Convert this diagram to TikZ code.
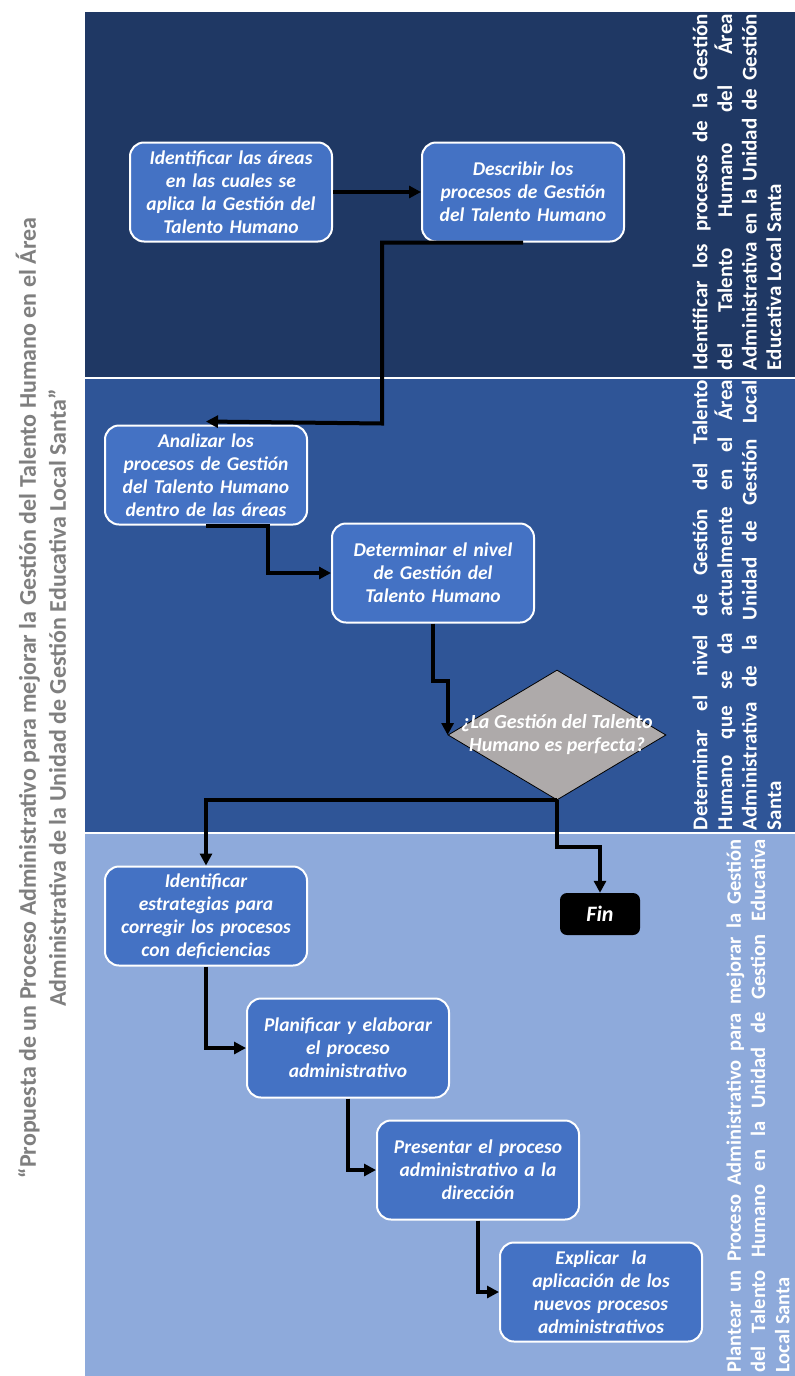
\documentclass[tikz,border=0pt]{standalone}
\usepackage{fontspec}
\setmainfont{Carlito}
\usetikzlibrary{arrows.meta,shapes.geometric,positioning}
\definecolor{laneA}{HTML}{1F3864}
\definecolor{laneB}{HTML}{2F5597}
\definecolor{laneC}{HTML}{8EAADB}
\definecolor{actblue}{HTML}{4472C4}
\definecolor{askgray}{HTML}{AEAAAA}
\definecolor{titlegray}{HTML}{7F7F7F}
\hyphenpenalty=10000
\tikzset{x=1pt, y=-1pt, % one unit is one pixel, y runs downwards
>={Triangle[length=12pt,width=12pt]}, % solid arrow heads
flow/.style={->, line width=4pt}, % the black connectors
act/.style={rectangle, rounded corners=14pt, draw=white, line width=2pt, fill=actblue, inner sep=3pt, minimum width=202pt, minimum height=99pt, text width=196pt, align=center, text=white, font=\fontsize{19.5}{23}\selectfont\bfseries\itshape}, % activity boxes
ask/.style={diamond, draw=black, line width=0.8pt, fill=askgray, minimum width=218pt, minimum height=130pt, inner sep=0pt}, % the question
asktext/.style={text=white, align=center, inner sep=0pt, font=\fontsize{20}{23}\selectfont\bfseries\itshape},
stop/.style={rectangle, rounded corners=7pt, fill=black, minimum width=80pt, minimum height=42pt, text=white, font=\fontsize{22}{24}\selectfont\bfseries\itshape},
lanetext/.style={rotate=90, text=white, align=justify, inner sep=0pt, font=\fontsize{21}{24.6}\selectfont\bfseries}, % lane captions
heading/.style={rotate=90, text=titlegray, align=center, inner sep=0pt, font=\fontsize{24}{30}\selectfont\bfseries}, % title
}

\begin{document}
\begin{tikzpicture}
\useasboundingbox (0,0) rectangle (795,1376);
% lanes
\fill[laneA] (85,12) rectangle (795,378);
\fill[laneB] (85,378) rectangle (795,833);
\fill[laneC] (85,833) rectangle (795,1376);
\draw[white, line width=2pt] (85,378) -- (795,378) (85,833) -- (795,833);

\node[heading] (title) at (41,698) {“Propuesta de un Proceso Administrativo para mejorar la Gestión del Talento Humano en el Área\\Administrativa de la Unidad de Gestión Educativa Local Santa”};

\node[lanetext, text width=356pt] (capA) at (737,192) {Identificar los procesos de la Gestión\linebreak del Talento Humano del Área\linebreak Administrativa en la Unidad de Gestión\linebreak Educativa Local Santa};
\node[lanetext, text width=450pt] (capB) at (737,605) {Determinar el nivel de Gestión del Talento\linebreak Humano que se da actualmente en el Área\linebreak Administrativa de la Unidad de Gestión Local\linebreak Santa};
\node[lanetext, text width=533pt, font=\fontsize{20.5}{24.2}\selectfont\bfseries] (capC) at (758,1106) {Plantear un Proceso Administrativo para mejorar la Gestión\linebreak del Talento Humano en la Unidad de Gestion Educativa\linebreak Local Santa};

% steps
\node[act] (p1) at (231,192) {Identificar las áreas\\en las cuales se\\aplica la Gestión del\\Talento Humano};
\node[act, right=88pt of p1] (p2) {Describir los\\procesos de Gestión\\del Talento Humano};
\node[act] (p3) at (206,475) {Analizar los\\procesos de Gestión\\del Talento Humano\\dentro de las áreas};
\node[act] (p4) at (433,573) {Determinar el nivel\\de Gestión del\\Talento Humano};
\node[ask] (dec) at (557,735) {};
\node[asktext] (decq) at (dec) {¿La Gestión del Talento\\Humano es perfecta?};
\node[stop] (fin) at (600,914) {Fin};
\node[act] (p7) at (206,916) {Identificar\\estrategias para\\corregir los procesos\\con deficiencias};
\node[act] (p8) at (348,1048) {Planificar y elaborar\\el proceso\\administrativo};
\node[act] (p9) at (478,1170) {Presentar el proceso\\administrativo a la\\dirección};
\node[act] (p10) at (601,1292) {Explicar~ la\\aplicación de los\\nuevos procesos\\administrativos};

% connectors
\draw[flow] (p1) -- (p2);
\draw[flow] (p2.south) -- ++(-141,0) -- ++(0,181) -- ([yshift=3pt]p3.north);
\draw[flow] (p3.south) -- ++(62,0) |- (p4.west);
\draw[flow] (p4.south) -- ++(0,57) -| (dec.west);
\draw[flow] (dec.south) -| (p7.north);
\draw[flow] (dec.south) -- ++(0,47) -| (fin.north);
\draw[flow] (p7.south) |- (p8.west);
\draw[flow] (p8.south) |- (p9.west);
\draw[flow] (p9.south) |- (p10.west);
\end{tikzpicture}
\end{document}
